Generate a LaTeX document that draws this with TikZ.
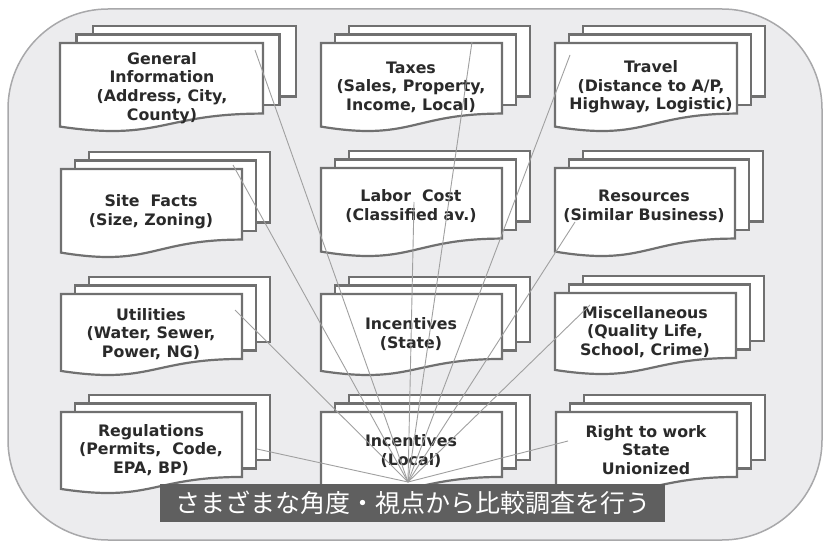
\documentclass[tikz,border=0pt]{standalone}
\usepackage{fontspec}
\setmainfont{DejaVu Sans}
\newfontfamily\cjk{Noto Sans CJK JP}
\definecolor{bgc}{RGB}{236,236,238}
\definecolor{framec}{RGB}{168,168,170}
\definecolor{sheetc}{RGB}{112,112,112}
\definecolor{txtc}{RGB}{42,42,42}
\definecolor{rayc}{RGB}{160,160,160}
\definecolor{bannerc}{RGB}{95,95,95}
\tikzset{
  frame/.style={draw=framec, fill=bgc, line width=1.5pt, rounded corners=100pt},
  sheet/.style={draw=sheetc, fill=white, line width=2.2pt, line join=miter},
  lbl/.style={font=\bfseries\fontsize{15.8}{18.6}\selectfont, text=txtc, align=center, inner sep=0pt},
  ray/.style={draw=rayc, line width=0.9pt},
  banner/.style={fill=bannerc, text=white, minimum width=505pt, minimum height=38pt, inner sep=0pt,
                 font=\cjk\fontsize{25}{28}\selectfont}
}
% L T w H dx dy
\newcommand{\dstack}[6]{%
  \draw[sheet] ({#1+2*(#5)},{#2-2*(#6)}) rectangle ++(#3,{0.802*#4});
  \draw[sheet] ({#1+#5},{#2-#6}) rectangle ++(#3,{0.802*#4});
  \draw[sheet] (#1,#2) -- ({#1+#3},#2) -- ({#1+#3},{#2+0.802*#4})
     .. controls ({#1+0.5*#3},{#2+0.802*#4}) and ({#1+0.5*#3},{#2+1.12*#4}) .. (#1,{#2+0.95*#4}) -- cycle;
}
\begin{document}
\begin{tikzpicture}[x=1pt,y=-1pt]
\useasboundingbox (0,0) rectangle (825,543);
\draw[frame] (8,9) rectangle (822,540);

% document stacks
\dstack{60}{43}{203}{88}{16.5}{8.5}
\dstack{321}{43}{181}{88}{14}{8.5}
\dstack{555}{43}{182}{88}{14}{8.5}
\dstack{61}{169}{181}{88}{14}{8.5}
\dstack{321}{168}{181}{88}{14}{8.5}
\dstack{555}{168}{180}{88}{14}{8.5}
\dstack{61}{294}{181}{81}{14}{8.5}
\dstack{321}{294}{181}{81}{14}{8.5}
\dstack{555}{293}{181}{81}{14}{8.5}
\dstack{61}{412}{181}{81}{14}{8.5}
\dstack{321}{412}{181}{81}{14}{8.5}
\dstack{556}{412}{181}{81}{14}{8.5}

% labels
\node[lbl] (gen) at (162,88) {General\\Information\\(Address, City,\\County)};
\node[lbl] (tax) at (411,87) {Taxes\\(Sales, Property,\\Income, Local)};
\node[lbl] (trv) at (651,87) {Travel\\(Distance to A/P,\\Highway, Logistic)};
\node[lbl] (site) at (151,212) {Site\ \ Facts\\(Size, Zoning)};
\node[lbl] (lab) at (411,206) {Labor\ \ Cost\\(Classified av.)};
\node[lbl] (res) at (644,206) {Resources\\(Similar Business)};
\node[lbl] (uti) at (151,334) {Utilities\\(Water, Sewer,\\Power, NG)};
\node[lbl] (ist) at (411,334) {Incentives\\(State)};
\node[lbl] (misc) at (645,332) {Miscellaneous\\(Quality Life,\\School, Crime)};
\node[lbl] (reg) at (151,450) {Regulations\\(Permits,\ \ Code,\\EPA, BP)};
\node[lbl] (iloc) at (411,451) {Incentives\\(Local)};
\node[lbl] (rtw) at (646,450) {Right to work\\State\\Unionized};

% fan of rays
\coordinate (f) at (408,482);
\coordinate (egen) at (255,50);
\coordinate (etax) at (472,42);
\coordinate (etrv) at (570,55);
\coordinate (esite) at (233,165);
\coordinate (elab) at (414,202);
\coordinate (eres) at (575,222);
\coordinate (euti) at (235,310);
\coordinate (emisc) at (590,305);
\coordinate (ereg) at (257,449);
\coordinate (ertw) at (568,441);
\foreach \e in {egen,etax,etrv,esite,elab,eres,euti,emisc,ereg,ertw}
  \draw[ray] (f) -- (\e);

% banner
\node[banner] (msg) at (412.5,503) {さまざまな角度・視点から比較調査を行う};
\end{tikzpicture}
\end{document}
